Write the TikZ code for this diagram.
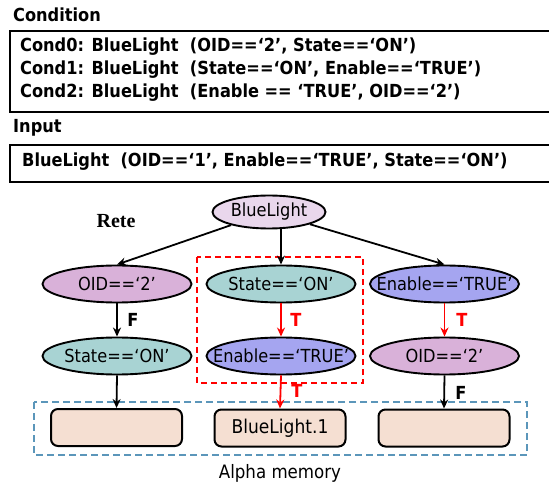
\documentclass[tikz,border=0pt]{standalone}
\usepackage{fontspec}
\setmainfont{DejaVu Sans Condensed}
\newfontfamily\retefont{Liberation Serif}
\usetikzlibrary{arrows.meta,shapes.geometric}
\definecolor{blfill}{HTML}{E9D7EC}
\definecolor{oidfill}{HTML}{D9B1D9}
\definecolor{stfill}{HTML}{A8D3D3}
\definecolor{enfill}{HTML}{A5A5F0}
\definecolor{memfill}{HTML}{F5DFD2}
\definecolor{bluedash}{HTML}{5B96BA}
\newcommand{\zw}[1]{\makebox[0pt][c]{#1}}
\tikzset{
  ell/.style={ellipse, draw, line width=1.9pt, minimum width=149pt, minimum height=37pt, inner sep=0pt, font=\fontsize{18}{18}\selectfont},
  mem/.style={rectangle, rounded corners=7pt, draw, line width=2pt, fill=memfill, minimum width=131pt, minimum height=37pt, inner sep=0pt, font=\fontsize{19}{19}\selectfont},
  arr/.style={-{Stealth[length=9pt,width=8pt]}, line width=1.8pt},
  redarr/.style={arr, red},
  lbl/.style={font=\bfseries\fontsize{18}{18}\selectfont, inner sep=0pt},
  bold18/.style={font=\bfseries\fontsize{18}{18}\selectfont, inner sep=0pt},
  txtbox/.style={draw, line width=1.8pt, anchor=north west, inner sep=0pt}
}
\begin{document}
\begin{tikzpicture}[x=1pt,y=-1pt]
\useasboundingbox (0,0) rectangle (549,486);
% headers and text boxes
\node[bold18, anchor=west] (hcond) at (13,15) {Condition};
\node[txtbox, minimum width=545pt, minimum height=81pt] (condbox) at (9,30) {};
\node[bold18, anchor=west] (c0) at (20,47) {Cond0: BlueLight\ \ (OID==‘2’, State==‘ON’)};
\node[bold18, anchor=west] (c1) at (20,70) {Cond1: BlueLight\ \ (State==‘ON’, Enable==‘TRUE’)};
\node[bold18, anchor=west] (c2) at (20,93) {Cond2: BlueLight\ \ (Enable == ‘TRUE’, OID==‘2’)};
\node[bold18, anchor=west] (hin) at (13,128) {Input};
\node[txtbox, minimum width=545pt, minimum height=37pt] (inbox) at (9,144) {};
\node[bold18, anchor=west] (in) at (22,162) {BlueLight\ \ (OID==‘1’, Enable==‘TRUE’, State==‘ON’)};
% dashed groups
\draw[red, line width=1.8pt, dash pattern=on 6pt off 4pt] (197,257) rectangle (363,383);
\draw[bluedash, line width=1.8pt, dash pattern=on 7pt off 4pt] (34,402) rectangle (527,455);
% rete
\node[font=\retefont\bfseries\fontsize{20}{20}\selectfont, inner sep=0pt] (rete) at (116,221) {Rete};
\node[ell, fill=blfill, minimum width=113pt, minimum height=33pt] (bl) at (269,212) {\zw{BlueLight}};
\node[ell, fill=oidfill] (oid1) at (117,284) {\zw{OID==‘2’}};
\node[ell, fill=stfill] (st1) at (281,284) {\zw{State==‘ON’}};
\node[ell, fill=enfill] (en1) at (444.5,284) {\zw{Enable==‘TRUE’}};
\node[ell, fill=stfill] (st2) at (117,356) {\zw{State==‘ON’}};
\node[ell, fill=enfill] (en2) at (281,356) {\zw{Enable==‘TRUE’}};
\node[ell, fill=oidfill] (oid2) at (444.5,356) {\zw{OID==‘2’}};
\node[mem] (m1) at (116.5,427.5) {};
\node[mem] (m2) at (280,428) {BlueLight.1};
\node[mem] (m3) at (444,428) {};
\node[font=\fontsize{18.5}{18.5}\selectfont, inner sep=0pt] (alpha) at (280,473) {Alpha memory};
% connectors
\draw[arr] (bl) -- (oid1.north);
\draw[arr] (st1.north |- bl.south) -- (st1.north);
\draw[arr] (bl) -- (en1.north);
\draw[arr] (oid1.south) -- (st2.north);
\draw[redarr] (st1.south) -- (en2.north);
\draw[redarr] (en1.south) -- (oid2.north);
\draw[arr] (st2.south) -- (m1.north);
\draw[redarr] (en2.south) -- (m2.north);
\draw[arr] (oid2.south) -- (m3.north);
% labels
\node[lbl] (f1) at (133,320) {F};
\node[lbl, red] (t1) at (296,320) {T};
\node[lbl, red] (t2) at (462,320) {T};
\node[lbl, red] (t3) at (297,391) {T};
\node[lbl] (f2) at (461,393) {F};
\end{tikzpicture}
\end{document}
